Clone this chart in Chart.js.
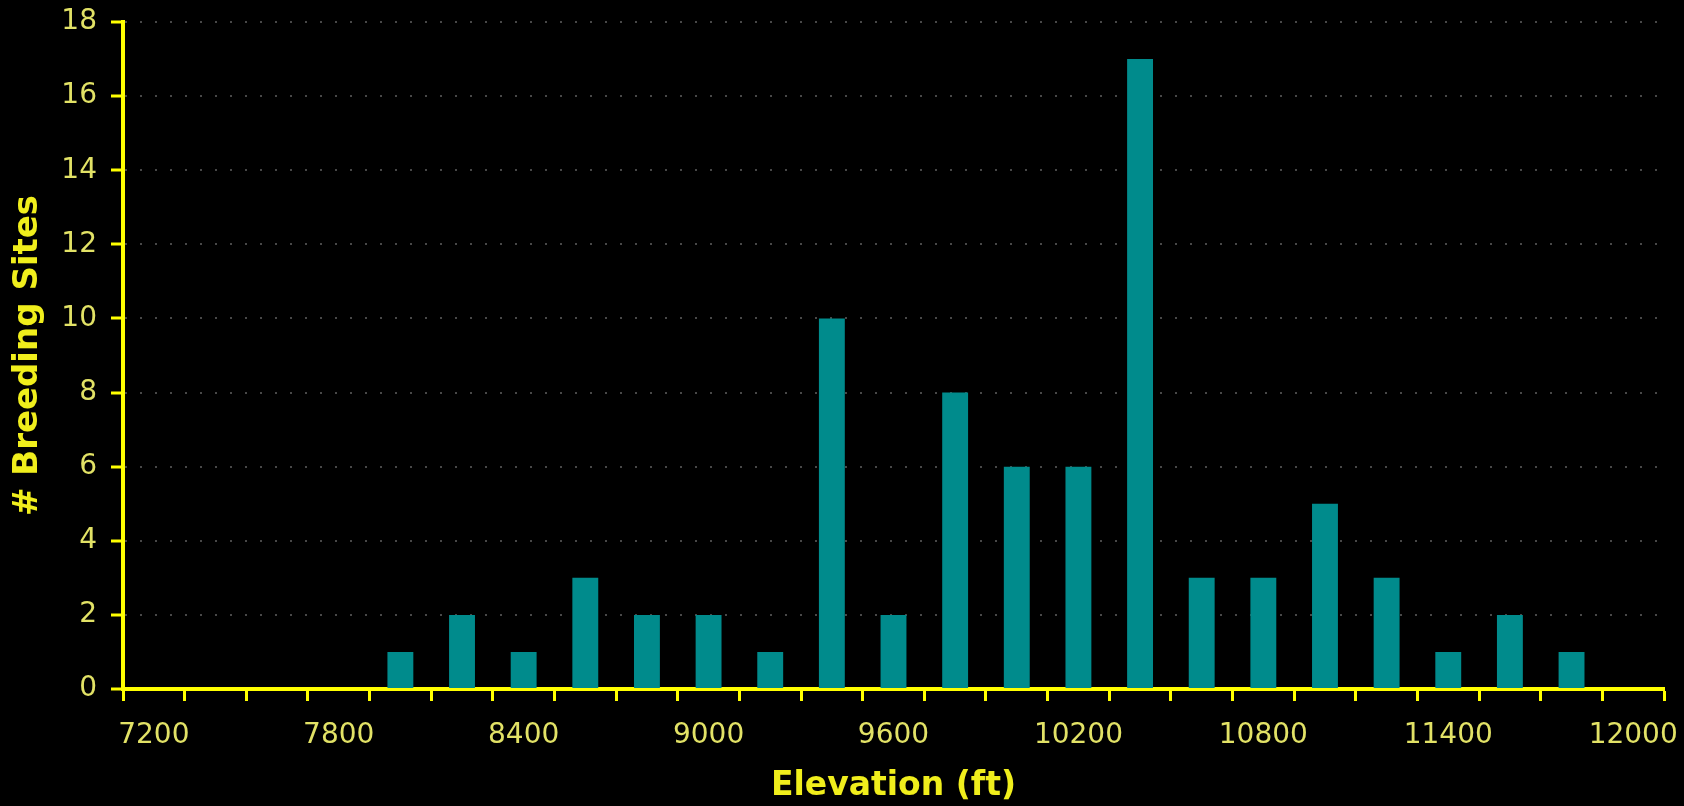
<!DOCTYPE html>
<html>
<head>
<meta charset="utf-8">
<title>Breeding Sites by Elevation</title>
<script src="https://cdn.jsdelivr.net/npm/chart.js@4.4.1/dist/chart.umd.min.js"></script>
<style>
    html, body { margin: 0; padding: 0; background: #000; }
    #wrap { width: 1684px; height: 806px; background: #000; }
</style>
</head>
<body>
<div id="wrap"><canvas id="elevacion"></canvas></div>
<script>
// Datos
var elevaciones = ["7200", "7400", "7600", "7800", "8000", "8200", "8400", "8600", "8800",
    "9000", "9200", "9400", "9600", "9800", "10000", "10200", "10400", "10600",
    "10800", "11000", "11200", "11400", "11600", "11800", "12000"];
var sitios = [0, 0, 0, 0, 1, 2, 1, 3, 2, 2, 1, 10, 2, 8, 6, 6, 17, 3, 3, 5, 3, 1, 2, 1, 0];
var etiquetasX = ["7200", "7800", "8400", "9000", "9600", "10200", "10800", "11400", "12000"];
var escalaY = { min: 0, max: 18, paso: 2 };

var amarillo = "#ffff00";
var textoEje = "#e2e266";
var tituloColor = "#f0ee1c";
var fuente = "'DejaVu Sans', Verdana, sans-serif";

var ctx = document.getElementById("elevacion").getContext("2d");
var grafico = new Chart(ctx, {
    type: "bar",
    data: {
        labels: elevaciones,
        datasets: [{
            label: "# Breeding Sites",
            data: sitios,
            backgroundColor: "#008b8c",
            borderWidth: 0,
            barPercentage: 0.42,
            categoryPercentage: 1.0
        }]
    },
    options: {
        responsive: true,
        maintainAspectRatio: false,
        animation: false,
        layout: {
            padding: { top: 22, right: 20, bottom: 0, left: 0 }
        },
        plugins: {
            legend: { display: false },
            tooltip: { enabled: false }
        },
        scales: {
            x: {
                type: "category",
                offset: true,
                afterFit: function (scale) {
                    scale.height = 117;
                    scale.paddingLeft = 0;
                    scale.paddingRight = 0;
                },
                grid: {
                    offset: true,
                    drawOnChartArea: false,
                    drawTicks: true,
                    tickLength: 12,
                    tickWidth: 3,
                    tickColor: amarillo
                },
                border: { display: true, color: amarillo, width: 4 },
                ticks: {
                    autoSkip: false,
                    maxRotation: 0,
                    minRotation: 0,
                    padding: 18,
                    color: textoEje,
                    font: { family: fuente, size: 28 },
                    callback: function (value, index) {
                        var e = elevaciones[index];
                        return etiquetasX.indexOf(e) >= 0 ? e : "";
                    }
                },
                title: {
                    display: true,
                    text: "Elevation (ft)",
                    color: tituloColor,
                    padding: { top: 0, bottom: 0 },
                    font: { family: fuente, size: 33, weight: "bold" }
                }
            },
            y: {
                min: escalaY.min,
                max: escalaY.max,
                afterFit: function (scale) {
                    scale.width = 123;
                    scale.paddingTop = 0;
                    scale.paddingBottom = 0;
                },
                grid: {
                    drawOnChartArea: true,
                    color: "rgba(110, 110, 110, 0.65)",
                    lineWidth: 2,
                    tickLength: 12,
                    tickWidth: 3,
                    tickColor: amarillo,
                    tickBorderDash: []
                },
                border: { display: true, color: amarillo, width: 4, dash: [2, 13] },
                ticks: {
                    stepSize: escalaY.paso,
                    padding: 14,
                    color: textoEje,
                    font: { family: fuente, size: 28 }
                },
                title: {
                    display: true,
                    text: "# Breeding Sites",
                    color: tituloColor,
                    padding: { top: 8, bottom: 0 },
                    font: { family: fuente, size: 34, weight: "bold" }
                }
            }
        }
    }
});
</script>
</body>
</html>
